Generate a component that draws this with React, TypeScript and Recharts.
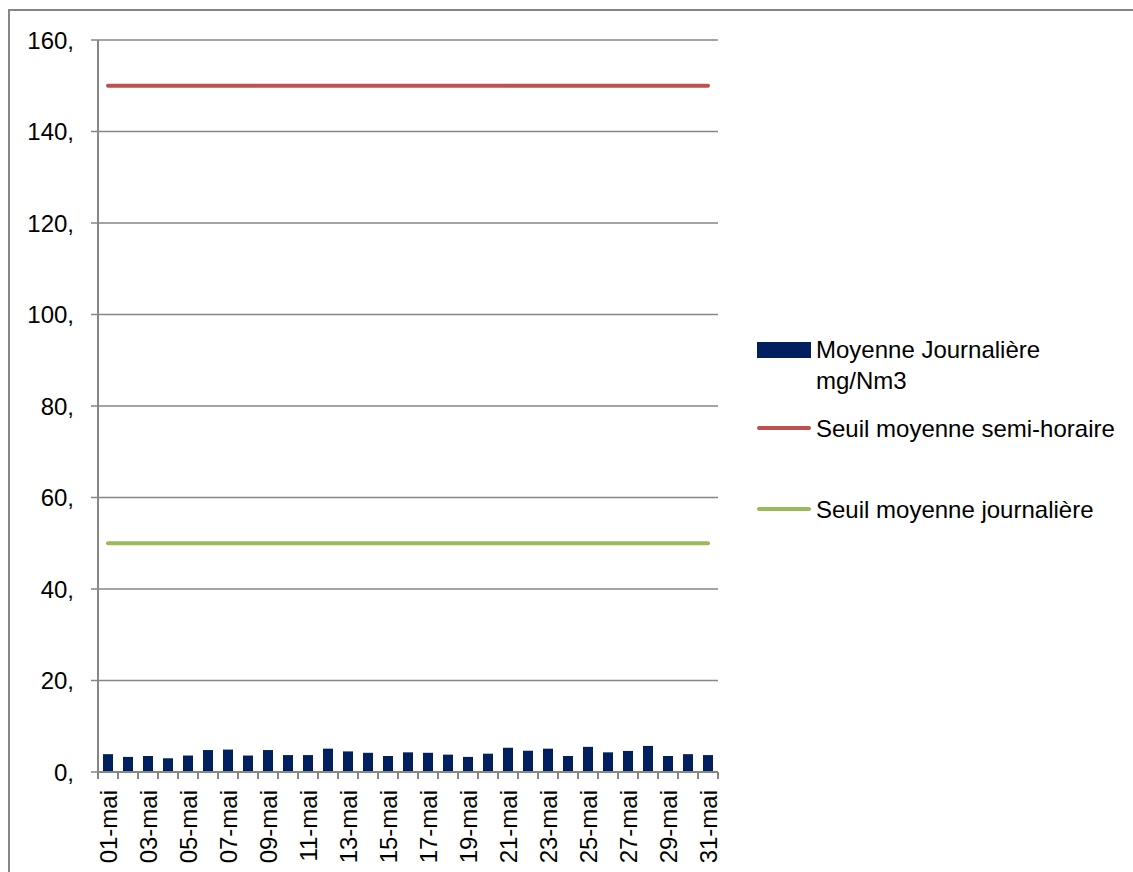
import React from 'react';
import { ComposedChart, Bar, Line, XAxis, YAxis, CartesianGrid } from 'recharts';

const days = [
  '01-mai', '02-mai', '03-mai', '04-mai', '05-mai', '06-mai', '07-mai', '08-mai',
  '09-mai', '10-mai', '11-mai', '12-mai', '13-mai', '14-mai', '15-mai', '16-mai',
  '17-mai', '18-mai', '19-mai', '20-mai', '21-mai', '22-mai', '23-mai', '24-mai',
  '25-mai', '26-mai', '27-mai', '28-mai', '29-mai', '30-mai', '31-mai',
];

const moyenneJournaliere = [
  3.9, 3.3, 3.5, 3.0, 3.6, 4.8, 4.9, 3.6, 4.8, 3.7, 3.7, 5.1, 4.5, 4.2, 3.5, 4.3,
  4.2, 3.8, 3.3, 4.0, 5.3, 4.65, 5.1, 3.5, 5.5, 4.3, 4.6, 5.7, 3.5, 3.9, 3.7,
];

const seuilSemiHoraire = 150;
const seuilJournaliere = 50;

const yTicks = [0, 20, 40, 60, 80, 100, 120, 140, 160];

const data = days.map((day, i) => ({
  day,
  moyenne: moyenneJournaliere[i],
  semiHoraire: seuilSemiHoraire,
  journaliere: seuilJournaliere,
}));

const FONT = '"Liberation Sans", Arial, sans-serif';
const AXIS = '#868686';
const W = 1133;
const H = 872;
const PLOT_LEFT = 98;
const PLOT_RIGHT = 718;
const PLOT_TOP = 40;
const PLOT_BOTTOM = 772;
const BAND = (PLOT_RIGHT - PLOT_LEFT) / days.length;

function DayTick(props: any) {
  const { x, y, index, payload } = props;
  const last = index === days.length - 1;
  return (
    <g>
      <line x1={x - BAND / 2} x2={x - BAND / 2} y1={y} y2={y + 7} stroke={AXIS} strokeWidth={2} />
      {last && <line x1={x + BAND / 2} x2={x + BAND / 2} y1={y} y2={y + 7} stroke={AXIS} strokeWidth={2} />}
      {index % 2 === 0 && (
        <text
          transform={`translate(${x + 1}, ${y + 18}) rotate(-90)`}
          textAnchor="end"
          dy="0.35em"
          fontFamily={FONT}
          fontSize={24}
          fill="#000"
        >
          {payload.value}
        </text>
      )}
    </g>
  );
}

const legendItems = [
  { label: ['Moyenne Journalière', 'mg/Nm3'], color: '#002060', kind: 'bar', gap: 0 },
  { label: ['Seuil moyenne semi-horaire'], color: '#C0504D', kind: 'line', gap: 17 },
  { label: ['Seuil moyenne journalière'], color: '#9BBB59', kind: 'line', gap: 50 },
];

function ChartLegend() {
  return (
    <div style={{ position: 'absolute', left: 757, top: 334, fontFamily: FONT, fontSize: 24, color: '#000' }}>
      {legendItems.map((it) => (
        <div key={it.label[0]} style={{ display: 'flex', marginTop: it.gap, lineHeight: '31px' }}>
          <div style={{ width: 54, height: 31, position: 'relative', flex: 'none', marginRight: 5 }}>
            {it.kind === 'bar' ? (
              <div style={{ position: 'absolute', left: 0, top: 8, width: 54, height: 16, background: it.color }} />
            ) : (
              <div style={{ position: 'absolute', left: 0, top: 13, width: 54, height: 4, borderRadius: 2, background: it.color }} />
            )}
          </div>
          <div>
            {it.label.map((l) => (
              <div key={l} style={{ whiteSpace: 'nowrap' }}>{l}</div>
            ))}
          </div>
        </div>
      ))}
    </div>
  );
}

export default function App() {
  return (
    <div style={{ position: 'relative', width: W, height: H, overflow: 'hidden', background: '#fff' }}>
      <style>{'body{margin:0;overflow:hidden}'}</style>
      <div
        style={{
          position: 'absolute',
          left: 8,
          top: 9,
          width: W + 20,
          height: H + 20,
          border: `2px solid ${AXIS}`,
          boxSizing: 'border-box',
        }}
      />
      <div style={{ position: 'absolute', left: 0, top: 0 }}>
        <ComposedChart
          width={W}
          height={H}
          data={data}
          margin={{ top: PLOT_TOP, right: W - PLOT_RIGHT, bottom: 0, left: 0 }}
        >
          <CartesianGrid vertical={false} stroke={AXIS} strokeWidth={1.5} />
          <XAxis
            dataKey="day"
            interval={0}
            height={H - PLOT_BOTTOM}
            tickLine={false}
            tickSize={0}
            tickMargin={0}
            axisLine={{ stroke: AXIS, strokeWidth: 2 }}
            tick={<DayTick />}
          />
          <YAxis
            width={PLOT_LEFT}
            domain={[0, 160]}
            ticks={yTicks}
            tickSize={7}
            tickMargin={17}
            tickLine={{ stroke: AXIS, strokeWidth: 1.5 }}
            axisLine={{ stroke: AXIS, strokeWidth: 2 }}
            tickFormatter={(v: number) => `${v},`}
            tick={{ fill: '#000', fontSize: 24, fontFamily: FONT }}
          />
          <Bar dataKey="moyenne" fill="#002060" barSize={10} isAnimationActive={false} />
          <Line
            dataKey="semiHoraire"
            stroke="#C0504D"
            strokeWidth={4}
            strokeLinecap="round"
            dot={false}
            activeDot={false}
            isAnimationActive={false}
          />
          <Line
            dataKey="journaliere"
            stroke="#9BBB59"
            strokeWidth={4}
            strokeLinecap="round"
            dot={false}
            activeDot={false}
            isAnimationActive={false}
          />
        </ComposedChart>
      </div>
      <ChartLegend />
    </div>
  );
}
